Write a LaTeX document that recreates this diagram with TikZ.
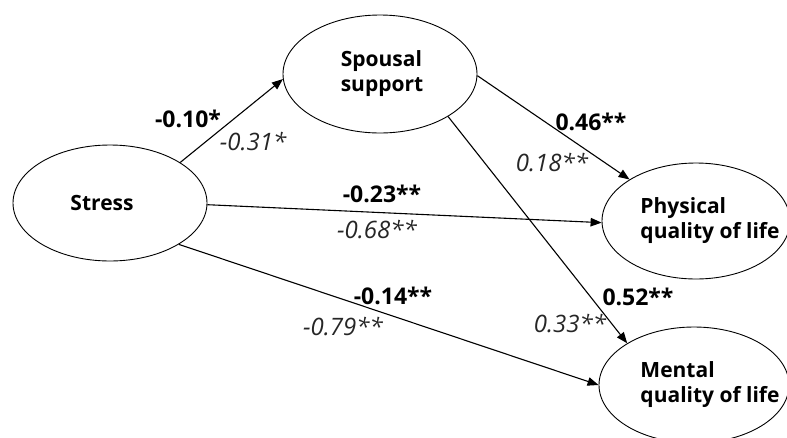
\documentclass[tikz,border=0pt]{standalone}
\usepackage{fontspec}
\setmainfont{Open Sans}
\usetikzlibrary{shapes.geometric,arrows.meta}
\tikzset{
  construct/.style={draw=black, line width=0.9pt, ellipse, inner sep=0pt},
  ctext/.style={align=left, inner sep=0pt, font=\bfseries\fontsize{21}{25}\selectfont},
  path/.style={draw=black, line width=1.1pt, -{Triangle[length=11pt,width=8.5pt]}},
  coefb/.style={font=\bfseries\fontsize{23}{26}\selectfont, text=black, inner sep=0pt},
  coefs/.style={font=\itshape\fontsize{24}{26}\selectfont, text=black!85, inner sep=0pt},
}
\begin{document}
\begin{tikzpicture}[x=1pt,y=-1pt]
  \useasboundingbox (0,0) rectangle (787,437);
  \clip (0,0) rectangle (787,437);

  % constructs (text set as a centred label, nudged sideways)
  \node[construct, minimum width=194pt, minimum height=116pt,
    label={[ctext, xshift=-8pt]center:Stress}] (stress) at (110,203) {};
  \node[construct, minimum width=194pt, minimum height=118pt,
    label={[ctext, xshift=2pt]center:Spousal\\support}] (spouse) at (380,74) {};
  \node[construct, minimum width=188pt, minimum height=116pt,
    label={[ctext, xshift=14pt]center:Physical\\quality of life}] (phys) at (696,221) {};
  \node[construct, minimum width=190pt, minimum height=116pt,
    label={[ctext, xshift=16pt]center:Mental\\quality of life}] (ment) at (694,385) {};

  % paths
  \draw[path] (stress.30) -- (spouse.183);
  \draw[path] (stress.-1) -- (phys.181);
  \draw[path] (stress.-31) -- (ment.180);
  \draw[path] (spouse.-1) -- (phys.148);
  \draw[path] (spouse.-32) -- (ment.148);

  % coefficients
  \node[coefb] (b1) at (188,119) {-0.10*};
  \node[coefs] (s1) at (253,142) {-0.31*};
  \node[coefb] (b2) at (382,194) {-0.23**};
  \node[coefs] (s2) at (377,230) {-0.68**};
  \node[coefb] (b3) at (393,296) {-0.14**};
  \node[coefs] (s3) at (343,327) {-0.79**};
  \node[coefb] (b4) at (591,122) {0.46**};
  \node[coefs] (s4) at (552,163) {0.18**};
  \node[coefb] (b5) at (638,297) {0.52**};
  \node[coefs] (s5) at (570,324) {0.33**};
\end{tikzpicture}
\end{document}
